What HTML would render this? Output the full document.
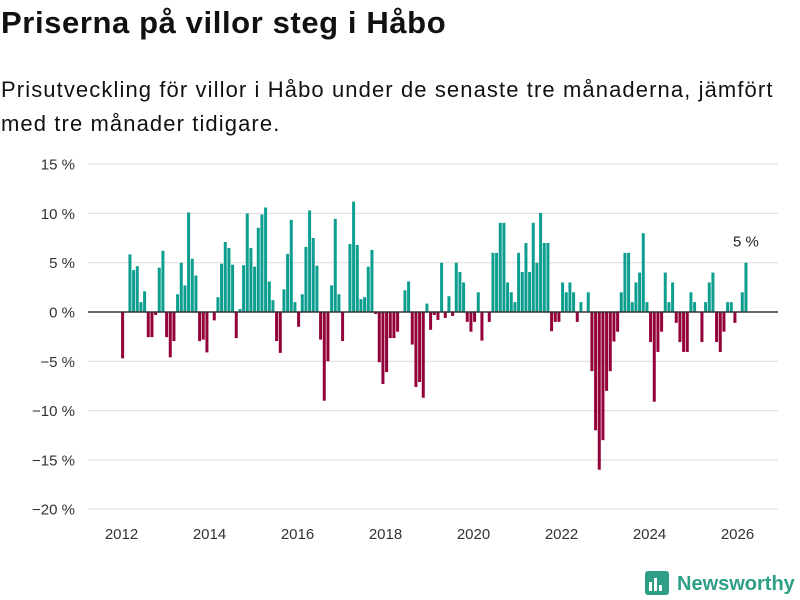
<!DOCTYPE html>
<html><head><meta charset="utf-8">
<style>
body{margin:0;background:#fff;width:800px;height:600px;overflow:hidden;font-family:"Liberation Sans",sans-serif;color:#111}
#title{position:absolute;left:1px;top:5px;font-size:31px;font-weight:bold;margin:0;letter-spacing:0.6px}
#sub{position:absolute;left:1px;top:73px;font-size:22px;line-height:34px;width:799px;margin:0;letter-spacing:1.1px;white-space:nowrap}
svg{position:absolute;left:0;top:0}
</style></head><body>
<h1 id="title">Priserna på villor steg i Håbo</h1>
<p id="sub">Prisutveckling för villor i Håbo under de senaste tre månaderna, jämfört<br>med tre månader tidigare.</p>
<svg id="chart" width="800" height="600"></svg>
<script>
const startYear = 2012;
const values = [
-4.7,0,5.85,4.25,4.65,1.0,2.1,-2.55,-2.55,-0.3,4.5,6.2,
-2.55,-4.6,-2.95,1.8,5.0,2.7,10.1,5.4,3.7,-2.95,-2.8,-4.1,
0,-0.85,1.5,4.9,7.1,6.5,4.8,-2.65,0.3,4.75,10.0,6.5,
4.6,8.55,9.9,10.6,3.1,1.2,-2.95,-4.15,2.3,5.9,9.35,1.0,
-1.5,1.8,6.6,10.3,7.5,4.7,-2.8,-9.0,-5.0,2.7,9.45,1.8,
-2.95,0,6.9,11.2,6.8,1.3,1.5,4.6,6.3,-0.2,-5.1,-7.3,
-6.1,-2.65,-2.65,-2.0,0,2.2,3.1,-3.3,-7.6,-7.1,-8.7,0.85,
-1.8,-0.3,-0.8,5.0,-0.6,1.6,-0.4,5.0,4.05,3.0,-1.0,-2.0,
-1.0,2.0,-2.9,0,-1.0,6.0,6.0,9.05,9.05,3.0,2.0,1.0,
6.0,4.05,7.0,4.05,9.05,5.0,10.05,7.0,7.0,-1.95,-1.0,-1.0,
3.0,2.0,3.0,2.0,-1.0,1.0,0,2.0,-6.0,-12.0,-16.0,-13.0,
-8.0,-6.0,-3.0,-2.0,2.0,6.0,6.0,1.0,3.0,4.0,8.0,1.0,
-3.05,-9.1,-4.05,-2.0,4.0,1.0,3.0,-1.1,-3.05,-4.05,-4.05,2.0,
1.0,0,-3.05,1.0,3.0,4.0,-3.05,-4.05,-2.0,1.0,1.0,-1.1,
0,2.0,5.0
];
const yTicks = [15,10,5,0,-5,-10,-15,-20];
const xTicks = [2012,2014,2016,2018,2020,2022,2024,2026];

const NS='http://www.w3.org/2000/svg';
const svg=document.getElementById('chart');
const y=v=>312 - v*9.857;
const x=t=>121.5 + (t-2012)*44;
function mk(tag,attrs){const e=document.createElementNS(NS,tag);for(const k in attrs)e.setAttribute(k,attrs[k]);svg.appendChild(e);return e;}

yTicks.forEach(v=>{
  if(v!==0){const g=mk('line',{x1:88,x2:778,y1:y(v),y2:y(v),stroke:'#dcdcdc','stroke-width':1});
  
  }
  const t=mk('text',{x:75,y:y(v)+5.5,'text-anchor':'end','font-size':15,fill:'#333'});
  t.textContent=(v<0?'\u2212'+(-v):v)+' %';
  
  
});
xTicks.forEach(v=>{
  const t=mk('text',{x:x(v),y:539,'text-anchor':'middle','font-size':15,fill:'#333'});
  t.textContent=v;
  
  
});
values.forEach((v,m)=>{
  if(v===0)return;
  const cx=x(startYear+(m+0.3)/12);
  const r=mk('rect',{x:cx-1.5,width:3,y:Math.min(y(v),y(0)),height:Math.abs(y(v)-y(0)),fill:v>0?'#0d9e90':'#93003a'});
  
  
});
const z=mk('line',{x1:88,x2:778,y1:y(0),y2:y(0),stroke:'#333','stroke-width':1.5});


const last=values.length-1;
const lab=mk('text',{x:x(startYear+(last+0.3)/12),y:y(values[last])-16,'text-anchor':'middle','font-size':15,fill:'#222'});
lab.textContent=Math.round(values[last])+' %';


</script>
<svg width="800" height="600" style="pointer-events:none">
<g>
<rect x="645" y="571" width="24" height="24" rx="3" fill="#2f9e86"/>
<rect x="649" y="582" width="3" height="9" fill="#fff"/>
<rect x="654" y="578" width="3" height="13" fill="#fff"/>
<rect x="659" y="585" width="3" height="6" fill="#fff"/>
<text x="677" y="590" font-size="20" font-weight="bold" fill="#2f9e86" font-family="Liberation Sans, sans-serif">Newsworthy</text>
</g>
</svg>
</body></html>
